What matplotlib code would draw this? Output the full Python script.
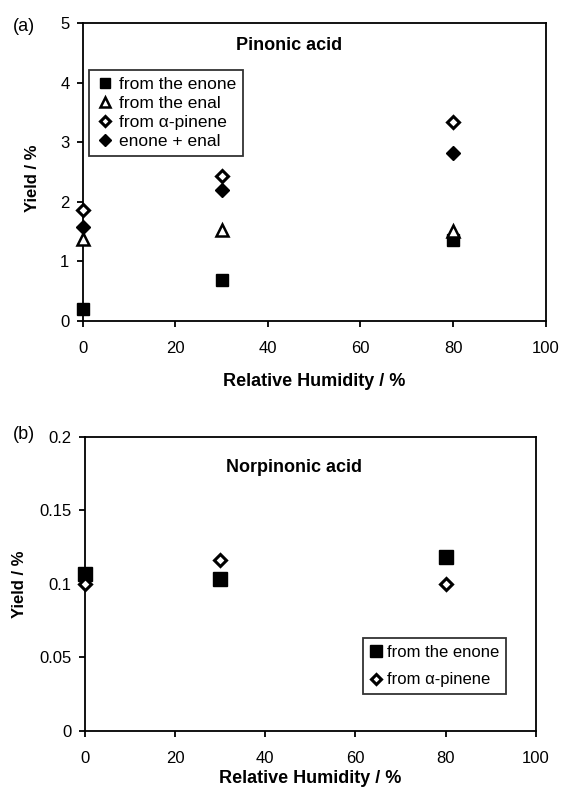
import matplotlib.pyplot as plt
import matplotlib.ticker as mticker

plt.rcParams['font.family'] = ['Liberation Sans', 'DejaVu Sans']

# (a) Pinonic acid
rh = [0, 30, 80]
pin_enone = [0.2, 0.69, 1.36]
pin_enal = [1.37, 1.52, 1.5]
pin_pinene = [1.86, 2.43, 3.34]
pin_sum = [1.57, 2.19, 2.81]

# (b) Norpinonic acid
nor_enone = [0.107, 0.103, 0.1185]
nor_pinene = [0.0997, 0.116, 0.1]

fig = plt.figure(figsize=(5.61, 7.93), dpi=100)
ax1 = fig.add_axes([0.1474, 0.5956, 0.8253, 0.3754])
ax2 = fig.add_axes([0.1515, 0.0782, 0.8034, 0.3711])


def style(ax, xlab_y):
    for s in ax.spines.values():
        s.set_linewidth(1.3)
    ax.tick_params(direction='out', length=4.5, width=1.3, labelsize=12,
                   right=False, top=False)
    ax.tick_params(axis='x', pad=10)
    ax.tick_params(axis='y', pad=5)
    ax.set_xlim(0, 100)
    ax.xaxis.set_major_locator(mticker.MultipleLocator(20))
    ax.set_xlabel('Relative Humidity / %', fontsize=13, fontweight='bold')
    ax.xaxis.set_label_coords(0.5, xlab_y)
    ax.set_ylabel('Yield / %', fontsize=12, fontweight='bold')


kw = dict(linestyle='none', clip_on=False, zorder=3)
leg_kw = dict(loc='upper left', frameon=True, fancybox=False,
              edgecolor='black', handletextpad=0.3,
              borderpad=0.4, borderaxespad=0, markerscale=0.85)

ax1.plot(rh, pin_enone, marker='s', ms=9, color='black', label='from the enone', **kw)
ax1.plot(rh, pin_enal, marker='^', ms=9, mfc='white', mec='black', mew=1.8,
         label='from the enal', **kw)
ax1.plot(rh, pin_pinene, marker='D', ms=6.5, mfc='white', mec='black', mew=2.2,
         label='from α-pinene', **kw)
ax1.plot(rh, pin_sum, marker='D', ms=7.5, color='black', label='enone + enal', **kw)
style(ax1, -0.177)
ax1.yaxis.set_label_coords(-0.092, 0.48)
ax1.set_ylim(0, 5)
ax1.yaxis.set_major_locator(mticker.MultipleLocator(1))
ax1.text(0.446, 0.926, 'Pinonic acid', transform=ax1.transAxes, ha='center',
         va='center', fontsize=13, fontweight='bold')
leg1 = ax1.legend(bbox_to_anchor=(0.0143, 0.842), labelspacing=0.22,
                  fontsize=12.5, handlelength=1.0, **leg_kw)
leg1.get_frame().set_linewidth(1.3)
fig.text(0.023, 0.966, '(a)', fontsize=13, va='center')

ax2.plot(rh, nor_enone, marker='s', ms=9.5, color='black', label='from the enone', **kw)
ax2.plot(rh, nor_pinene, marker='D', ms=6, mfc='white', mec='black', mew=2.2,
         label='from α-pinene', **kw)
style(ax2, -0.1325)
ax2.yaxis.set_label_coords(-0.129, 0.5)
ax2.set_ylim(0, 0.2)
ax2.set_yticks([0, 0.05, 0.1, 0.15, 0.2])
ax2.set_yticklabels(['0', '0.05', '0.1', '0.15', '0.2'])
ax2.text(0.464, 0.897, 'Norpinonic acid', transform=ax2.transAxes, ha='center',
         va='center', fontsize=13, fontweight='bold')
leg2 = ax2.legend(bbox_to_anchor=(0.6175, 0.315), labelspacing=0.75,
                  fontsize=12, handlelength=0.7, **leg_kw)
leg2.get_frame().set_linewidth(1.3)
fig.text(0.023, 0.4515, '(b)', fontsize=13, va='center')

fig.savefig('out.png', dpi=100)
